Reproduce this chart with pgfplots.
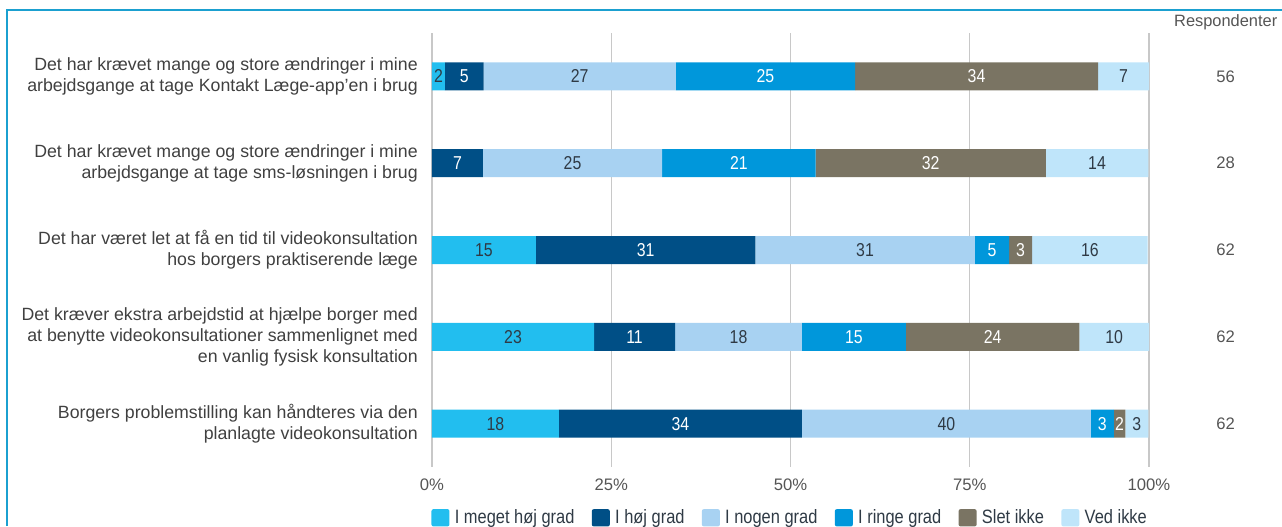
\documentclass[border=0pt]{standalone}
\usepackage{pgfplots}
\pgfplotsset{compat=1.18}
\usepackage{fontspec}
\setmainfont{Liberation Sans}
\newfontfamily\cond[FakeStretch=0.85]{Liberation Sans}
\definecolor{c1}{HTML}{22BEEF}
\definecolor{c2}{HTML}{004F86}
\definecolor{c3}{HTML}{A8D2F2}
\definecolor{c4}{HTML}{0097DB}
\definecolor{c5}{HTML}{7A7463}
\definecolor{c6}{HTML}{BFE5FA}
\definecolor{dk}{HTML}{2F3A45}
\definecolor{labc}{HTML}{404040}
\definecolor{tickc}{HTML}{555555}
\definecolor{gridc}{HTML}{C8C8C8}
\definecolor{framec}{HTML}{1BA0D0}
\begin{document}
\begin{tikzpicture}
\useasboundingbox (0,0) rectangle (961.5pt,-394.5pt);
\draw[line width=1.5pt, color=framec] (5.25pt,-394.5pt) -- (5.25pt,-7.5pt) -- (961.5pt,-7.5pt);
\begin{axis}[
  at={(324pt,-350.25pt)}, anchor=south west,
  scale only axis, width=537.75pt, height=325.5pt,
  xbar stacked, bar width=21pt,
  xmin=0, xmax=100, ymin=0.5, ymax=5.5, y dir=reverse,
  axis line style={draw=none}, major tick style={draw=none},
  xtick={0,25,50,75,100}, xticklabels={0\%,25\%,50\%,75\%,100\%},
  xmajorgrids, grid style={color=gridc, line width=0.9pt},
  ytick={1,2,3,4,5},
  yticklabels={
    {Det har krævet mange og store ændringer i mine\\arbejdsgange at tage Kontakt Læge-app’en i brug},
    {Det har krævet mange og store ændringer i mine\\arbejdsgange at tage sms-løsningen i brug},
    {Det har været let at få en tid til videokonsultation\\hos borgers praktiserende læge},
    {Det kræver ekstra arbejdstid at hjælpe borger med\\at benytte videokonsultationer sammenlignet med\\en vanlig fysisk konsultation},
    {Borgers problemstilling kan håndteres via den\\planlagte videokonsultation}},
  yticklabel style={align=right, anchor=east, inner sep=0pt, xshift=-10.5pt,
    font=\fontsize{13.3}{15.9}\selectfont, text=labc},
  xticklabel style={anchor=north, inner sep=0pt, yshift=-9pt,
    font=\fontsize{12.5}{15}\selectfont, text=tickc},
  clip=false,
  point meta=explicit symbolic,
  nodes near coords,
  every node near coord/.append style={font=\cond\fontsize{14}{16}\selectfont},
  legend style={at={(0.5,-0.117)}, anchor=center, draw=none, fill=none,
    legend columns=6, font=\cond\fontsize{14.5}{16}\selectfont, text=dk,
    /tikz/every even column/.append style={column sep=11pt},
    /tikz/every odd column/.append style={column sep=2pt}},
  legend image code/.code={\fill[#1, draw=none, rounded corners=1.5pt] (0pt,-6.5pt) rectangle (13.5pt,6.5pt);},
]
\addplot[fill=c1, draw=none, every node near coord/.append style={text=dk}]
  coordinates {(1.8,1)[2] (0,2)[] (14.5,3)[15] (22.6,4)[23] (17.7,5)[18]};
\addplot[fill=c2, draw=none, every node near coord/.append style={text=white}]
  coordinates {(5.4,1)[5] (7.1,2)[7] (30.6,3)[31] (11.3,4)[11] (33.9,5)[34]};
\addplot[fill=c3, draw=none, every node near coord/.append style={text=dk}]
  coordinates {(26.8,1)[27] (25,2)[25] (30.6,3)[31] (17.7,4)[18] (40.3,5)[40]};
\addplot[fill=c4, draw=none, every node near coord/.append style={text=white}]
  coordinates {(25,1)[25] (21.4,2)[21] (4.8,3)[5] (14.5,4)[15] (3.2,5)[3]};
\addplot[fill=c5, draw=none, every node near coord/.append style={text=white}]
  coordinates {(33.9,1)[34] (32.1,2)[32] (3.2,3)[3] (24.2,4)[24] (1.6,5)[2]};
\addplot[fill=c6, draw=none, every node near coord/.append style={text=dk}]
  coordinates {(7.1,1)[7] (14.3,2)[14] (16.1,3)[16] (9.7,4)[10] (3.2,5)[3]};
\legend{I meget høj grad, I høj grad, I nogen grad, I ringe grad, Slet ikke, Ved ikke}
\node[font=\fontsize{12.3}{14}\selectfont, text=tickc] at (axis cs:110.7,0.38) {Respondenter};
\node[font=\fontsize{12.5}{14}\selectfont, text=tickc] at (axis cs:110.7,1) {56};
\node[font=\fontsize{12.5}{14}\selectfont, text=tickc] at (axis cs:110.7,2) {28};
\node[font=\fontsize{12.5}{14}\selectfont, text=tickc] at (axis cs:110.7,3) {62};
\node[font=\fontsize{12.5}{14}\selectfont, text=tickc] at (axis cs:110.7,4) {62};
\node[font=\fontsize{12.5}{14}\selectfont, text=tickc] at (axis cs:110.7,5) {62};
\end{axis}
\end{tikzpicture}
\end{document}
